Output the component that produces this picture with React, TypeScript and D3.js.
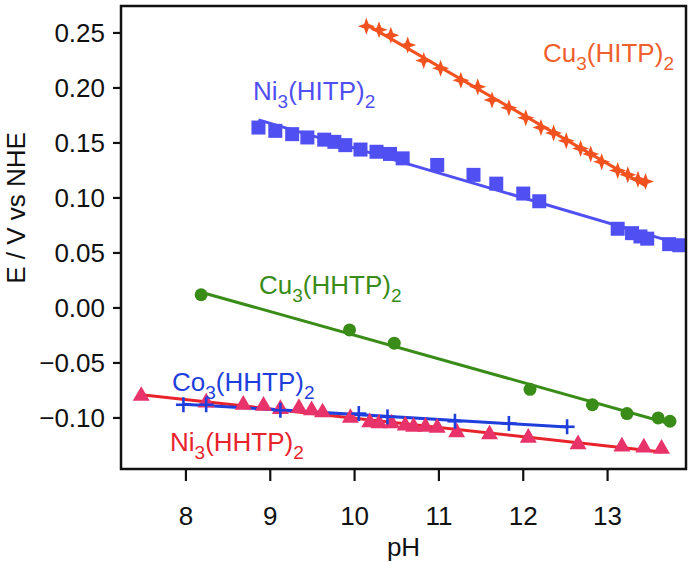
import React from "react";
import * as d3 from "d3";

// ---- data (pH, E / V vs NHE) ----
const cuHitpPH = [10.14, 10.29, 10.43, 10.63, 10.82, 11.02, 11.26, 11.46, 11.63, 11.83, 12.03, 12.21, 12.36, 12.51, 12.68, 12.8, 12.93, 13.12, 13.24, 13.36, 13.45];
const cuHitpE = [0.256, 0.253, 0.248, 0.239, 0.225, 0.218, 0.207, 0.201, 0.189, 0.182, 0.173, 0.164, 0.159, 0.152, 0.145, 0.14, 0.133, 0.125, 0.121, 0.117, 0.115];

const niHitpPH = [8.86, 9.06, 9.26, 9.44, 9.64, 9.76, 9.89, 10.07, 10.26, 10.42, 10.57, 10.98, 11.41, 11.68, 12.0, 12.19, 13.12, 13.29, 13.39, 13.47, 13.73, 13.85];
const niHitpE = [0.164, 0.161, 0.158, 0.155, 0.153, 0.151, 0.148, 0.144, 0.142, 0.14, 0.136, 0.13, 0.121, 0.113, 0.104, 0.097, 0.072, 0.068, 0.065, 0.063, 0.058, 0.057];

const cuHhtpPH = [8.18, 9.94, 10.47, 12.08, 12.82, 13.23, 13.6, 13.74];
const cuHhtpE = [0.012, -0.02, -0.032, -0.074, -0.088, -0.096, -0.1, -0.103];

const coHhtpPH = [7.97, 8.24, 9.12, 10.05, 10.39, 11.19, 11.83, 12.52];
const coHhtpE = [-0.088, -0.088, -0.093, -0.096, -0.099, -0.103, -0.105, -0.108];

const niHhtpPH = [7.47, 8.24, 8.68, 8.92, 9.12, 9.34, 9.49, 9.62, 9.95, 10.18, 10.29, 10.44, 10.6, 10.7, 10.84, 10.98, 11.21, 11.6, 12.06, 12.65, 13.17, 13.43, 13.64];
const niHhtpE = [-0.08, -0.086, -0.088, -0.089, -0.092, -0.091, -0.093, -0.095, -0.1, -0.104, -0.105, -0.105, -0.107, -0.108, -0.108, -0.109, -0.113, -0.115, -0.118, -0.124, -0.126, -0.127, -0.128];

const xTicks = [8, 9, 10, 11, 12, 13];
const yTicks = [0.25, 0.2, 0.15, 0.1, 0.05, 0.0, -0.05, -0.1];

const W = 695;
const H = 562;
const FRAME = { left: 121, right: 686, top: 6, bottom: 469 };
const FONT = "'Liberation Sans', Arial, Helvetica, sans-serif";

const x = d3.scaleLinear().domain([7.23, 13.93]).range([FRAME.left, FRAME.right]);
const y = d3.scaleLinear().domain([-0.1464, 0.2745]).range([FRAME.bottom, FRAME.top]);

function fit(px: number[], py: number[]) {
  const mx = d3.mean(px) as number;
  const my = d3.mean(py) as number;
  let sxy = 0, sxx = 0;
  px.forEach((v, i) => { sxy += (v - mx) * (py[i] - my); sxx += (v - mx) * (v - mx); });
  const b = sxy / sxx;
  const a = my - b * mx;
  const [x0, x1] = d3.extent(px) as [number, number];
  return [[x0, a + b * x0], [x1, a + b * x1]] as [number, number][];
}

const line = d3.line<[number, number]>().x(d => x(d[0])).y(d => y(d[1]));

const starPath = (() => {
  const pts: string[] = [];
  const R = 8.5, r = 3.2;
  for (let i = 0; i < 8; i++) {
    const ang = (Math.PI / 4) * i - Math.PI / 2;
    const rad = i % 2 === 0 ? R : r;
    pts.push(`${(rad * Math.cos(ang)).toFixed(2)},${(rad * Math.sin(ang)).toFixed(2)}`);
  }
  return "M" + pts.join("L") + "Z";
})();

const triPath = d3.symbol().type(d3.symbolTriangle).size(125)() as string;

const C_ORANGE = "#f2521f";
const C_ORANGE_T = "#f05f2e";
const C_PURPLE = "#5050f2";
const C_GREEN = "#3a8c18";
const C_BLUE = "#1f3fdc";
const C_RED = "#e8232c";
const C_PINK = "#e8336a";

function Label({ x0, y0, metal, ligand, color }: { x0: number; y0: number; metal: string; ligand: string; color: string }) {
  return (
    <text x={x0} y={y0} fill={color} fontSize={26} fontFamily={FONT}>
      {metal}
      <tspan dy={8} fontSize={19}>3</tspan>
      <tspan dy={-8}>{`(${ligand})`}</tspan>
      <tspan dy={8} fontSize={19}>2</tspan>
    </text>
  );
}

export default function App() {
  const cuHitp = cuHitpPH.map((p, i) => [p, cuHitpE[i]] as [number, number]);
  const niHitp = niHitpPH.map((p, i) => [p, niHitpE[i]] as [number, number]);
  const cuHhtp = cuHhtpPH.map((p, i) => [p, cuHhtpE[i]] as [number, number]);
  const coHhtp = coHhtpPH.map((p, i) => [p, coHhtpE[i]] as [number, number]);
  const niHhtp = niHhtpPH.map((p, i) => [p, niHhtpE[i]] as [number, number]);

  return (
    <svg width={W} height={H} style={{ position: "absolute", left: 0, top: 0, background: "#fff" }} fontFamily={FONT}>
      {/* fit lines */}
      <path d={line(fit(niHhtpPH, niHhtpE)) as string} stroke={C_RED} strokeWidth={3} fill="none" />
      <path d={line(fit(coHhtpPH, coHhtpE)) as string} stroke={C_BLUE} strokeWidth={3} fill="none" />
      <path d={line(fit(cuHhtpPH, cuHhtpE)) as string} stroke={C_GREEN} strokeWidth={3} fill="none" />
      <path d={line(fit(niHitpPH, niHitpE)) as string} stroke={C_PURPLE} strokeWidth={3} fill="none" />
      <path d={line(fit(cuHitpPH, cuHitpE)) as string} stroke={C_ORANGE} strokeWidth={3} fill="none" />

      {/* markers */}
      {niHhtp.map((d, i) => (
        <path key={"t" + i} d={triPath} transform={`translate(${x(d[0])},${y(d[1])})`} fill={C_PINK} />
      ))}
      {coHhtp.map((d, i) => (
        <g key={"c" + i} transform={`translate(${x(d[0])},${y(d[1])})`} stroke={C_BLUE} strokeWidth={2.6}>
          <line x1={-7.5} x2={7.5} y1={0} y2={0} />
          <line x1={0} x2={0} y1={-7.5} y2={7.5} />
        </g>
      ))}
      {cuHhtp.map((d, i) => (
        <circle key={"g" + i} cx={x(d[0])} cy={y(d[1])} r={6.5} fill={C_GREEN} />
      ))}
      {niHitp.map((d, i) => (
        <rect key={"s" + i} x={x(d[0]) - 7} y={y(d[1]) - 7} width={14} height={14} fill={C_PURPLE} />
      ))}
      {cuHitp.map((d, i) => (
        <path key={"st" + i} d={starPath} transform={`translate(${x(d[0])},${y(d[1])})`} fill={C_ORANGE} />
      ))}

      {/* labels */}
      <Label x0={543} y0={62} metal="Cu" ligand="HITP" color={C_ORANGE_T} />
      <Label x0={253} y0={100} metal="Ni" ligand="HITP" color={C_PURPLE} />
      <Label x0={259} y0={294} metal="Cu" ligand="HHTP" color={C_GREEN} />
      <Label x0={172} y0={391} metal="Co" ligand="HHTP" color={C_BLUE} />
      <Label x0={170} y0={451} metal="Ni" ligand="HHTP" color={C_RED} />

      {/* frame */}
      <rect x={FRAME.left} y={FRAME.top} width={FRAME.right - FRAME.left} height={FRAME.bottom - FRAME.top} fill="none" stroke="#111" strokeWidth={2.5} />

      {/* x axis */}
      {xTicks.map(t => (
        <g key={"xt" + t}>
          <line x1={x(t)} x2={x(t)} y1={FRAME.bottom} y2={FRAME.bottom + 12} stroke="#111" strokeWidth={2.2} />
          <text x={x(t)} y={525} textAnchor="middle" fontSize={26} fill="#111">{t}</text>
        </g>
      ))}
      <text x={(FRAME.left + FRAME.right) / 2} y={556} textAnchor="middle" fontSize={26} fill="#111">pH</text>

      {/* y axis */}
      {yTicks.map(t => (
        <g key={"yt" + t}>
          <line x1={FRAME.left - 8} x2={FRAME.left} y1={y(t)} y2={y(t)} stroke="#111" strokeWidth={2.2} />
          <text x={105} y={y(t)} dy="0.36em" textAnchor="end" fontSize={26} fill="#111">
            {d3.format(".2f")(t).replace("-", "\u2212")}
          </text>
        </g>
      ))}
      <text transform={`translate(25,208) rotate(-90)`} textAnchor="middle" fontSize={26} fill="#111">E / V vs NHE</text>
    </svg>
  );
}
